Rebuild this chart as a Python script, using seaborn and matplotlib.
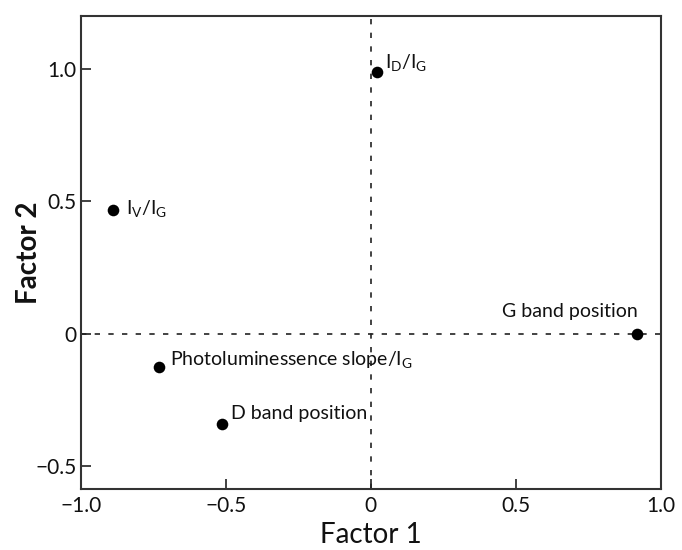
import matplotlib
matplotlib.use("Agg")

import matplotlib.pyplot as plt
import seaborn as sns
import pandas as pd

# ── Data ─────────────────────────────────────────────────────────────────────
labels = [r"I$_\mathrm{D}$/I$_\mathrm{G}$",
          r"I$_\mathrm{V}$/I$_\mathrm{G}$",
          "G band position",
          r"Photoluminessence slope/I$_\mathrm{G}$",
          "D band position"]
factor1 = [0.023, -0.887, 0.92, -0.729, -0.513]
factor2 = [0.989, 0.469, 0.0, -0.125, -0.34]

df = pd.DataFrame({"Factor 1": factor1, "Factor 2": factor2, "label": labels})

# label placement (offset in pixels, alignment)
offsets = [(8, 4, "left"), (13, -4, "left"), (0, 17, "right"),
           (11, 2, "left"), (9, 5, "left")]

sns.set_style("ticks")
plt.rcParams["font.family"] = ["Lato", "DejaVu Sans"]
plt.rcParams["mathtext.fontset"] = "custom"
plt.rcParams["mathtext.rm"] = "Lato"
plt.rcParams["mathtext.it"] = "Lato"

fig = plt.figure(figsize=(6.82, 5.5), dpi=100)
ax = fig.add_axes([0.1183, 0.1104, 0.8504, 0.8605])

dash = (0, (3.2, 5.0))
ax.axhline(0, color="#222222", linestyle=dash, linewidth=1.2, zorder=1)
ax.axvline(0, color="#222222", linestyle=dash, linewidth=1.2, zorder=1)

sns.scatterplot(data=df, x="Factor 1", y="Factor 2", ax=ax, color="black",
                s=70, edgecolor="black", linewidth=0, zorder=3)

for (x, y, lab), (dx, dy, ha) in zip(zip(factor1, factor2, labels), offsets):
    ax.annotate(lab, (x, y), xytext=(dx, dy), textcoords="offset pixels",
                ha=ha, va="baseline", fontsize=14, color="#111111")

ax.set_xlim(-1.0, 1.0)
ax.set_ylim(-0.587, 1.2)
ax.set_xticks([-1.0, -0.5, 0, 0.5, 1.0])
ax.set_xticklabels(["\u22121.0", "\u22120.5", "0", "0.5", "1.0"])
ax.set_yticks([-0.5, 0, 0.5, 1.0])
ax.set_yticklabels(["\u22120.5", "0", "0.5", "1.0"])
ax.tick_params(axis="both", direction="in", length=7, width=1.3,
               labelsize=15, color="#333333", labelcolor="#111111")
ax.tick_params(axis="x", pad=5)
ax.tick_params(axis="y", pad=3)
ax.set_xlabel("Factor 1", fontsize=20, color="#111111")
ax.set_ylabel("Factor 2", fontsize=20, fontweight="bold", color="#111111")
ax.xaxis.set_label_coords(0.5, -0.07)
ax.yaxis.set_label_coords(-0.066, 0.5)
for sp in ax.spines.values():
    sp.set_visible(True)
    sp.set_linewidth(1.5)
    sp.set_color("#333333")

fig.savefig("out.png", dpi=100)
plt.close(fig)
